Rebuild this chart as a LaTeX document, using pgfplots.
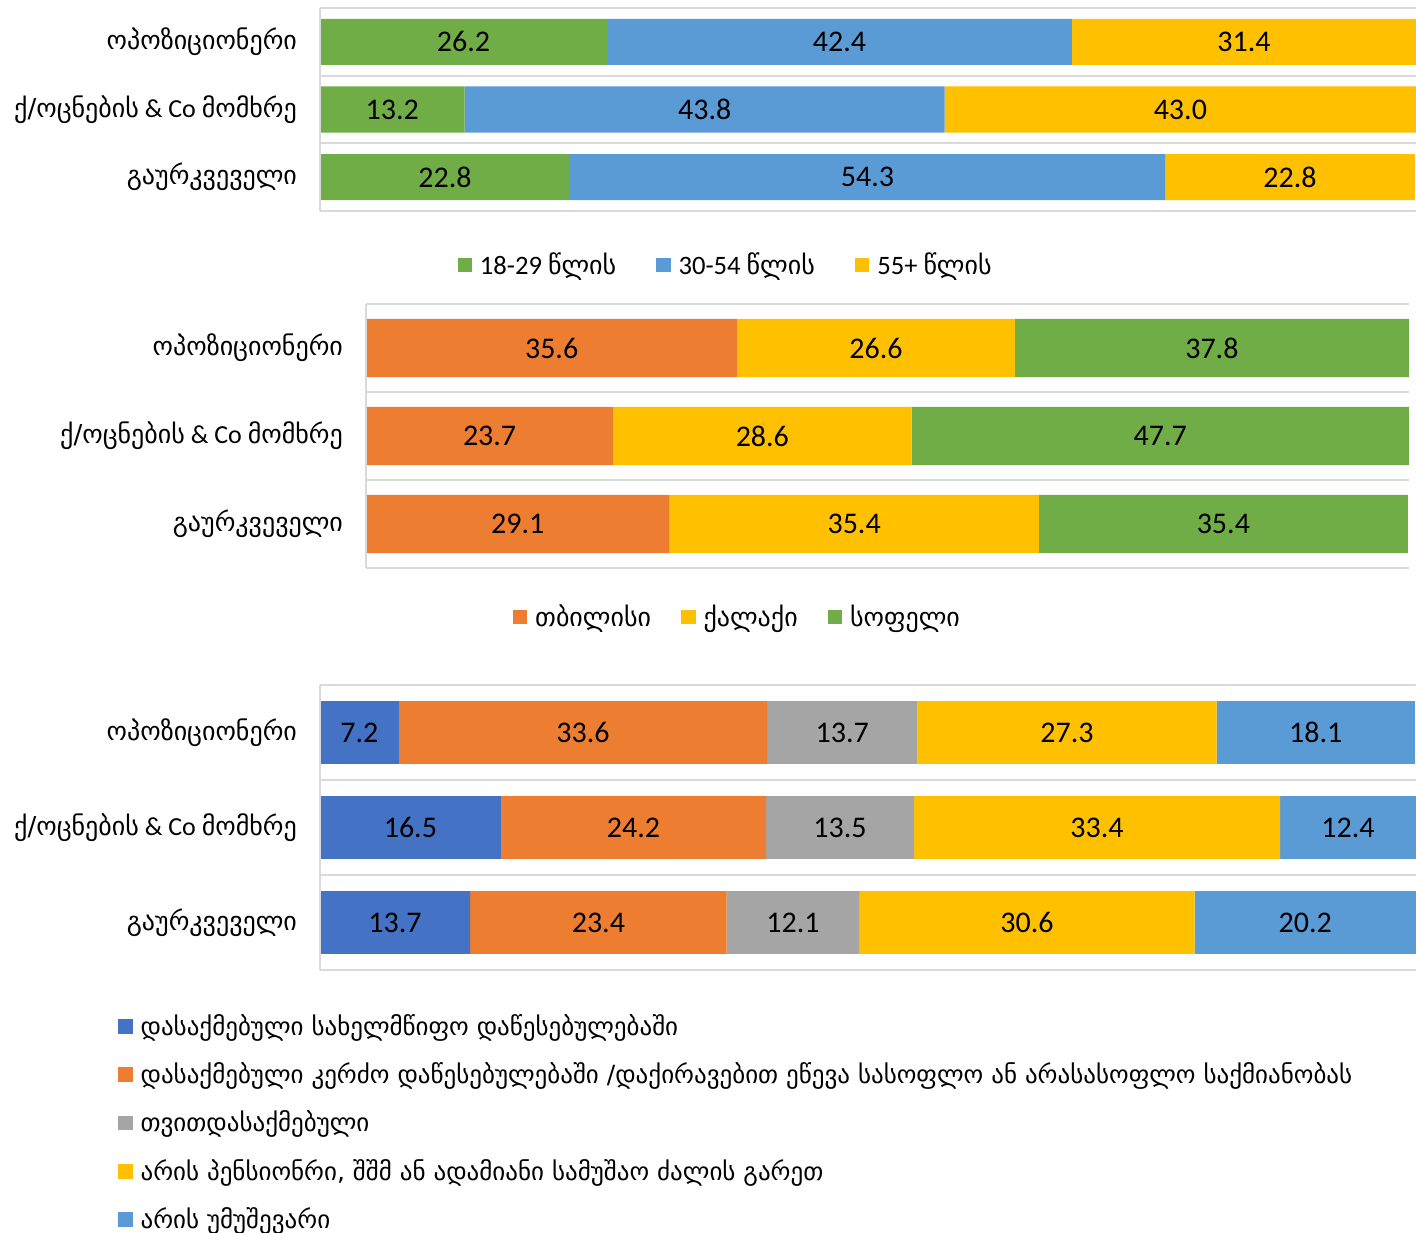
\documentclass[border=0pt]{standalone}
\usepackage{pgfplots}
\pgfplotsset{compat=1.18}
\usepackage{fontspec}
\setmainfont{Carlito}
\newfontfamily\geo{DejaVu Sans}
\definecolor{cgreen}{HTML}{70AD47}
\definecolor{cblue}{HTML}{5B9BD5}
\definecolor{cgold}{HTML}{FFC000}
\definecolor{corange}{HTML}{ED7D31}
\definecolor{cgray}{HTML}{A5A5A5}
\definecolor{cdblue}{HTML}{4472C4}
\definecolor{cline}{HTML}{D9D9D9}
\newcommand{\lblfont}{\fontsize{13}{15.5}\selectfont}
\newcommand{\numfont}{\fontsize{15}{18}\selectfont}
\newcommand{\legfont}{\fontsize{13.3}{16}\selectfont}
\newcommand{\legthree}{\fontsize{12.5}{15}\selectfont}
\pgfplotsset{
  sqleg/.style={legend image code/.code={\fill[##1] (0pt,-3.6pt) rectangle (7.2pt,3.6pt);}},
  panel/.style={
    scale only axis,
    xbar stacked,
    xmin=0, xmax=100,
    ymin=-0.5, ymax=2.5,
    y dir=reverse,
    ytick={0,1,2},
    yticklabels={{\geo ოპოზიციონერი},{{\geo ქ/ოცნების} \& Co {\geo მომხრე}},{\geo გაურკვეველი}},
    xtick=\empty,
    major tick length=0pt,
    axis line style={draw=none},
    extra y ticks={-0.5,0.5,1.5,2.5},
    extra y tick labels={},
    extra y tick style={grid=major, major grid style={cline, line width=1.1pt}},
    yticklabel style={font=\lblfont, xshift=-8pt},
    nodes near coords,
    every node near coord/.append style={font=\numfont, text=black},
    /pgf/number format/fixed,
    /pgf/number format/fixed zerofill,
    /pgf/number format/precision=1,
    /pgf/number format/assume math mode=true,
    legend style={draw=none, fill=none, legend columns=-1, font=\legfont,
      /tikz/every odd column/.append style={column sep=2pt}},
    clip=false,
  }
}
\begin{document}
\begin{tikzpicture}
\useasboundingbox (0,0) rectangle (708pt,-616pt);
% Panel 1: age
\begin{axis}[panel,
  at={(160pt,-4pt)}, anchor=north west,
  width=548pt, height=101.5pt, bar width=0.68,
  legend style={at={(0.371,-0.266)}, anchor=center,
    /tikz/every even column/.append style={column sep=18pt}}]
\addplot[fill=cgreen, draw=none, sqleg] coordinates {(26.2,0) (13.2,1) (22.8,2)};
\addlegendentry{18-29 {\geo\lblfont წლის}}
\addplot[fill=cblue, draw=none, sqleg] coordinates {(42.4,0) (43.8,1) (54.3,2)};
\addlegendentry{30-54 {\geo\lblfont წლის}}
\addplot[fill=cgold, draw=none, sqleg] coordinates {(31.4,0) (43.0,1) (22.8,2)};
\addlegendentry{55+ {\geo\lblfont წლის}}
\end{axis}
\draw[cline, line width=1.1pt] (160pt,-4pt) -- (160pt,-105.5pt);
% Panel 2: settlement
\begin{axis}[panel,
  at={(183pt,-152pt)}, anchor=north west,
  width=521.5pt, height=132pt, bar width=0.66,
  legend style={at={(0.357,-0.186)}, anchor=center,
    /tikz/every even column/.append style={column sep=13pt}}]
\addplot[fill=corange, draw=none, sqleg] coordinates {(35.6,0) (23.7,1) (29.1,2)};
\addlegendentry{\geo\lblfont თბილისი}
\addplot[fill=cgold, draw=none, sqleg] coordinates {(26.6,0) (28.6,1) (35.4,2)};
\addlegendentry{\geo\lblfont ქალაქი}
\addplot[fill=cgreen, draw=none, sqleg] coordinates {(37.8,0) (47.7,1) (35.4,2)};
\addlegendentry{\geo\lblfont სოფელი}
\end{axis}
\draw[cline, line width=1.1pt] (183pt,-152pt) -- (183pt,-284pt);
% Panel 3: employment
\begin{axis}[panel,
  at={(160pt,-342.5pt)}, anchor=north west,
  width=548pt, height=142.5pt, bar width=0.66,
  legend columns=1,
  legend cell align=left,
  legend style={at={(-0.190,-0.126)}, anchor=north west, row sep=8.2pt, font=\legthree}]
\addplot[fill=cdblue, draw=none, sqleg] coordinates {(7.2,0) (16.5,1) (13.7,2)};
\addlegendentry{\geo დასაქმებული სახელმწიფო დაწესებულებაში}
\addplot[fill=corange, draw=none, sqleg] coordinates {(33.6,0) (24.2,1) (23.4,2)};
\addlegendentry{\geo დასაქმებული კერძო დაწესებულებაში /დაქირავებით ეწევა სასოფლო ან არასასოფლო საქმიანობას}
\addplot[fill=cgray, draw=none, sqleg] coordinates {(13.7,0) (13.5,1) (12.1,2)};
\addlegendentry{\geo თვითდასაქმებული}
\addplot[fill=cgold, draw=none, sqleg] coordinates {(27.3,0) (33.4,1) (30.6,2)};
\addlegendentry{\geo არის პენსიონრი, შშმ ან ადამიანი სამუშაო ძალის გარეთ}
\addplot[fill=cblue, draw=none, sqleg] coordinates {(18.1,0) (12.4,1) (20.2,2)};
\addlegendentry{\geo არის უმუშევარი}
\end{axis}
\draw[cline, line width=1.1pt] (160pt,-342.5pt) -- (160pt,-485pt);
\end{tikzpicture}
\end{document}
